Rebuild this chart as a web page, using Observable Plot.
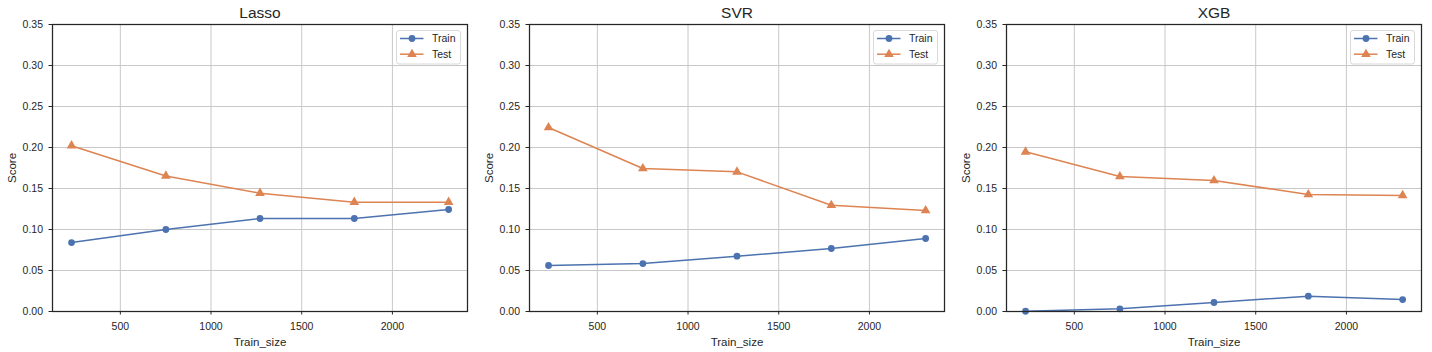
<!DOCTYPE html>
<html><head><meta charset="utf-8">
<script src="https://cdn.jsdelivr.net/npm/d3@7"></script>
<script src="https://cdn.jsdelivr.net/npm/@observablehq/plot@0.6"></script>
<style>
body{margin:0;background:#fff;}
#row{display:flex;width:1432px;height:352px;}
#row svg{display:block;}
</style></head><body><div id="row"></div>
<script>
const trainSizes = [231, 751, 1270, 1790, 2310];
const models = ["Lasso", "SVR", "XGB"];
const lassoTrain = [0.0841, 0.1000, 0.1134, 0.1134, 0.1244];
const lassoTest  = [0.2022, 0.1653, 0.1443, 0.1333, 0.1333];
const svrTrain   = [0.0561, 0.0585, 0.0675, 0.0768, 0.0890];
const svrTest    = [0.2244, 0.1744, 0.1703, 0.1296, 0.1232];
const xgbTrain   = [0.0003, 0.0033, 0.0110, 0.0187, 0.0146];
const xgbTest    = [0.1947, 0.1646, 0.1597, 0.1427, 0.1415];
const seriesNames = ["Train", "Test"];
const seriesColors = ["#4c72b0", "#dd8452"];
const seriesSymbols = ["circle", "triangle"];
const xTicks = [500, 1000, 1500, 2000];
const yTicks = [0, 0.05, 0.10, 0.15, 0.20, 0.25, 0.30, 0.35];
const panelWidths = [477, 477, 478];

const seriesByModel = {
  Lasso: [lassoTrain, lassoTest],
  SVR: [svrTrain, svrTest],
  XGB: [xgbTrain, xgbTest]
};

const textColor = "#262626";
const font = "'Liberation Sans', Arial, sans-serif";

models.forEach((model, mi) => {
  const data = [];
  seriesByModel[model].forEach((vals, si) => {
    trainSizes.forEach((x, i) => data.push({x, y: vals[i], s: seriesNames[si]}));
  });
  const W = panelWidths[mi];
  const chart = Plot.plot({
    width: W, height: 352,
    marginLeft: 52, marginRight: W - 467, marginTop: 24, marginBottom: 41,
    style: {fontFamily: font, fontSize: "10.5px", color: textColor, background: "#fff"},
    x: {domain: [126, 2414]},
    y: {domain: [0, 0.35]},
    color: {domain: seriesNames, range: seriesColors},
    symbol: {domain: seriesNames, range: seriesSymbols},
    marks: [
      Plot.gridX(xTicks, {stroke: "#c8c8c8", strokeOpacity: 1, strokeWidth: 1}),
      Plot.gridY(yTicks, {stroke: "#c8c8c8", strokeOpacity: 1, strokeWidth: 1}),
      Plot.line(data, {x: "x", y: "y", z: "s", stroke: "s", strokeWidth: 1.5}),
      Plot.dot(data.filter(d => d.s === "Train"), {x: "x", y: "y", fill: "s", symbol: "s", r: 3.4, stroke: null}),
      Plot.dot(data.filter(d => d.s === "Test"), {x: "x", y: "y", fill: "s", symbol: "s", r: 3.6, stroke: null}),
      Plot.frame({stroke: textColor, strokeWidth: 1.25}),
      Plot.axisX(xTicks, {tickSize: 3.5, tickPadding: 7.5, stroke: textColor, tickFormat: d3.format("d"),
        label: "Train_size", labelAnchor: "center", labelArrow: "none", labelOffset: 34, fontSize: 10.5}),
      Plot.axisY(yTicks, {tickSize: 3.5, tickPadding: 6, stroke: textColor, tickFormat: d3.format(".2f"),
        label: "Score", labelAnchor: "center", labelArrow: "none", labelOffset: 45, fontSize: 10.5}),
      Plot.text([model], {frameAnchor: "top", dy: -11, lineAnchor: "middle", fontSize: 15.5, fontWeight: "normal", fill: textColor, text: d => d})
    ]
  });
  d3.select(chart).selectAll("g[aria-label='x-axis label'] text, g[aria-label='y-axis label'] text")
    .attr("font-size", 11.5);

  // legend
  const svg = d3.select(chart);
  const right = 467;
  const lx = right - 70.5, ly = 24 + 6.5;
  const g = svg.append("g").attr("aria-label", "legend").attr("text-anchor", "start");
  g.append("rect").attr("x", lx).attr("y", ly).attr("width", 64).attr("height", 33.5)
    .attr("rx", 2.5).attr("fill", "#fff").attr("fill-opacity", 0.8)
    .attr("stroke", "#d9d9d9").attr("stroke-width", 1);
  seriesNames.forEach((name, i) => {
    const cy = ly + 8 + i * 15.7;
    g.append("line").attr("x1", lx + 3.5).attr("x2", lx + 27).attr("y1", cy).attr("y2", cy)
      .attr("stroke", seriesColors[i]).attr("stroke-width", 1.5);
    const sym = d3.symbol(i === 0 ? d3.symbolCircle : d3.symbolTriangle, i === 0 ? 36 : 40);
    g.append("path").attr("d", sym()).attr("transform", `translate(${lx + 15.5},${cy})`)
      .attr("fill", seriesColors[i]);
    g.append("text").attr("x", lx + 35.5).attr("y", cy).attr("dy", "0.35em")
      .attr("text-anchor", "start")
      .attr("font-size", 10.5).attr("fill", textColor).attr("font-family", font).text(name);
  });
  document.getElementById("row").appendChild(chart);
});
</script>
</body></html>
